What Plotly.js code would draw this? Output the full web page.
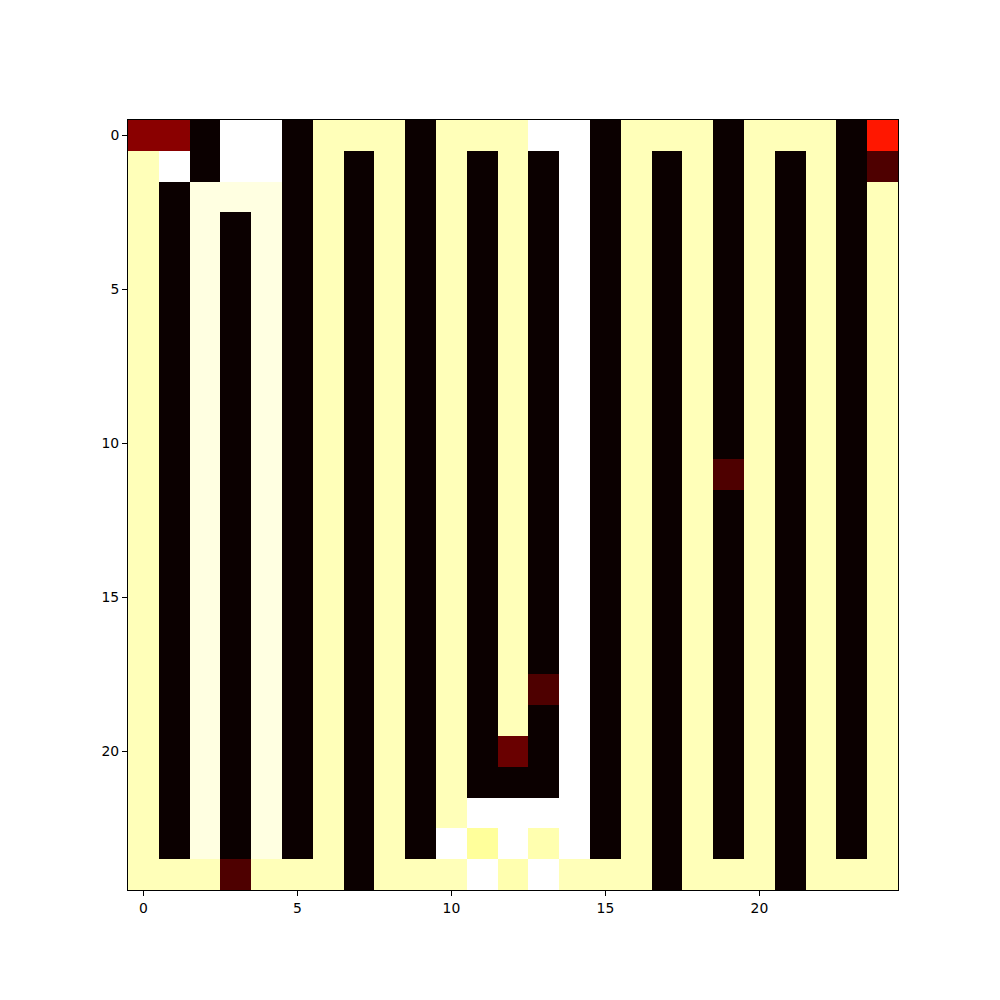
<!DOCTYPE html>
<html>
<head>
<meta charset="utf-8">
<script src="https://cdn.plot.ly/plotly-3.0.1.min.js"></script>
<style>html,body{margin:0;padding:0;background:#fff;}#chart{width:1000px;height:1000px;}</style>
</head>
<body>
<div id="chart"></div>
<script>
// Cell values (normalized 0..1, matplotlib "hot" colormap), rows top to bottom
const z = [
  [0.19,0.19,0,1,1,0,0.93,0.93,0.93,0,0.93,0.93,0.93,1,1,0,0.93,0.93,0.93,0,0.93,0.93,0.93,0,0.40],
  [0.93,1,0,1,1,0,0.93,0,0.93,0,0.93,0,0.93,0,1,0,0.93,0,0.93,0,0.93,0,0.93,0,0.10],
  [0.93,0,0.97,0.97,0.97,0,0.93,0,0.93,0,0.93,0,0.93,0,1,0,0.93,0,0.93,0,0.93,0,0.93,0,0.93],
  [0.93,0,0.97,0,0.97,0,0.93,0,0.93,0,0.93,0,0.93,0,1,0,0.93,0,0.93,0,0.93,0,0.93,0,0.93],
  [0.93,0,0.97,0,0.97,0,0.93,0,0.93,0,0.93,0,0.93,0,1,0,0.93,0,0.93,0,0.93,0,0.93,0,0.93],
  [0.93,0,0.97,0,0.97,0,0.93,0,0.93,0,0.93,0,0.93,0,1,0,0.93,0,0.93,0,0.93,0,0.93,0,0.93],
  [0.93,0,0.97,0,0.97,0,0.93,0,0.93,0,0.93,0,0.93,0,1,0,0.93,0,0.93,0,0.93,0,0.93,0,0.93],
  [0.93,0,0.97,0,0.97,0,0.93,0,0.93,0,0.93,0,0.93,0,1,0,0.93,0,0.93,0,0.93,0,0.93,0,0.93],
  [0.93,0,0.97,0,0.97,0,0.93,0,0.93,0,0.93,0,0.93,0,1,0,0.93,0,0.93,0,0.93,0,0.93,0,0.93],
  [0.93,0,0.97,0,0.97,0,0.93,0,0.93,0,0.93,0,0.93,0,1,0,0.93,0,0.93,0,0.93,0,0.93,0,0.93],
  [0.93,0,0.97,0,0.97,0,0.93,0,0.93,0,0.93,0,0.93,0,1,0,0.93,0,0.93,0,0.93,0,0.93,0,0.93],
  [0.93,0,0.97,0,0.97,0,0.93,0,0.93,0,0.93,0,0.93,0,1,0,0.93,0,0.93,0.10,0.93,0,0.93,0,0.93],
  [0.93,0,0.97,0,0.97,0,0.93,0,0.93,0,0.93,0,0.93,0,1,0,0.93,0,0.93,0,0.93,0,0.93,0,0.93],
  [0.93,0,0.97,0,0.97,0,0.93,0,0.93,0,0.93,0,0.93,0,1,0,0.93,0,0.93,0,0.93,0,0.93,0,0.93],
  [0.93,0,0.97,0,0.97,0,0.93,0,0.93,0,0.93,0,0.93,0,1,0,0.93,0,0.93,0,0.93,0,0.93,0,0.93],
  [0.93,0,0.97,0,0.97,0,0.93,0,0.93,0,0.93,0,0.93,0,1,0,0.93,0,0.93,0,0.93,0,0.93,0,0.93],
  [0.93,0,0.97,0,0.97,0,0.93,0,0.93,0,0.93,0,0.93,0,1,0,0.93,0,0.93,0,0.93,0,0.93,0,0.93],
  [0.93,0,0.97,0,0.97,0,0.93,0,0.93,0,0.93,0,0.93,0,1,0,0.93,0,0.93,0,0.93,0,0.93,0,0.93],
  [0.93,0,0.97,0,0.97,0,0.93,0,0.93,0,0.93,0,0.93,0.10,1,0,0.93,0,0.93,0,0.93,0,0.93,0,0.93],
  [0.93,0,0.97,0,0.97,0,0.93,0,0.93,0,0.93,0,0.93,0,1,0,0.93,0,0.93,0,0.93,0,0.93,0,0.93],
  [0.93,0,0.97,0,0.97,0,0.93,0,0.93,0,0.93,0,0.14,0,1,0,0.93,0,0.93,0,0.93,0,0.93,0,0.93],
  [0.93,0,0.97,0,0.97,0,0.93,0,0.93,0,0.93,0,0,0,1,0,0.93,0,0.93,0,0.93,0,0.93,0,0.93],
  [0.93,0,0.97,0,0.97,0,0.93,0,0.93,0,0.93,1,1,1,1,0,0.93,0,0.93,0,0.93,0,0.93,0,0.93],
  [0.93,0,0.97,0,0.97,0,0.93,0,0.93,0,1,0.90,1,0.92,1,0,0.93,0,0.93,0,0.93,0,0.93,0,0.93],
  [0.93,0.93,0.93,0.10,0.93,0.93,0.93,0,0.93,0.93,0.93,1,0.92,1,0.93,0.93,0.93,0,0.93,0.93,0.93,0,0.93,0.93,0.93]
];
const xTicks = [0, 5, 10, 15, 20];
const yTicks = [0, 5, 10, 15, 20];

// matplotlib "hot" colormap
const hot = [
  [0, 'rgb(11,0,0)'],
  [0.365079, 'rgb(255,0,0)'],
  [0.746032, 'rgb(255,255,0)'],
  [1, 'rgb(255,255,255)']
];

const trace = {
  type: 'heatmap',
  z: z,
  colorscale: hot,
  zmin: 0,
  zmax: 1,
  showscale: false,
  hoverinfo: 'skip'
};

const axisCommon = {
  showgrid: false,
  zeroline: false,
  showline: true,
  linecolor: '#000',
  linewidth: 1,
  mirror: true,
  ticks: 'outside',
  ticklen: 5,
  tickwidth: 1,
  tickcolor: '#000',
  tickfont: {family: 'DejaVu Sans', size: 13.9, color: '#000'}
};

const layout = {
  width: 1000,
  height: 1000,
  margin: {l: 128, r: 102, t: 120, b: 110},
  paper_bgcolor: '#fff',
  plot_bgcolor: '#fff',
  xaxis: Object.assign({}, axisCommon, {range: [-0.5, 24.5], tickvals: xTicks, ticktext: xTicks.map(String)}),
  yaxis: Object.assign({}, axisCommon, {range: [24.5, -0.5], tickvals: yTicks, ticktext: yTicks.map(String)}),
  showlegend: false
};

Plotly.newPlot('chart', [trace], layout, {staticPlot: true, displayModeBar: false});
</script>
</body>
</html>
